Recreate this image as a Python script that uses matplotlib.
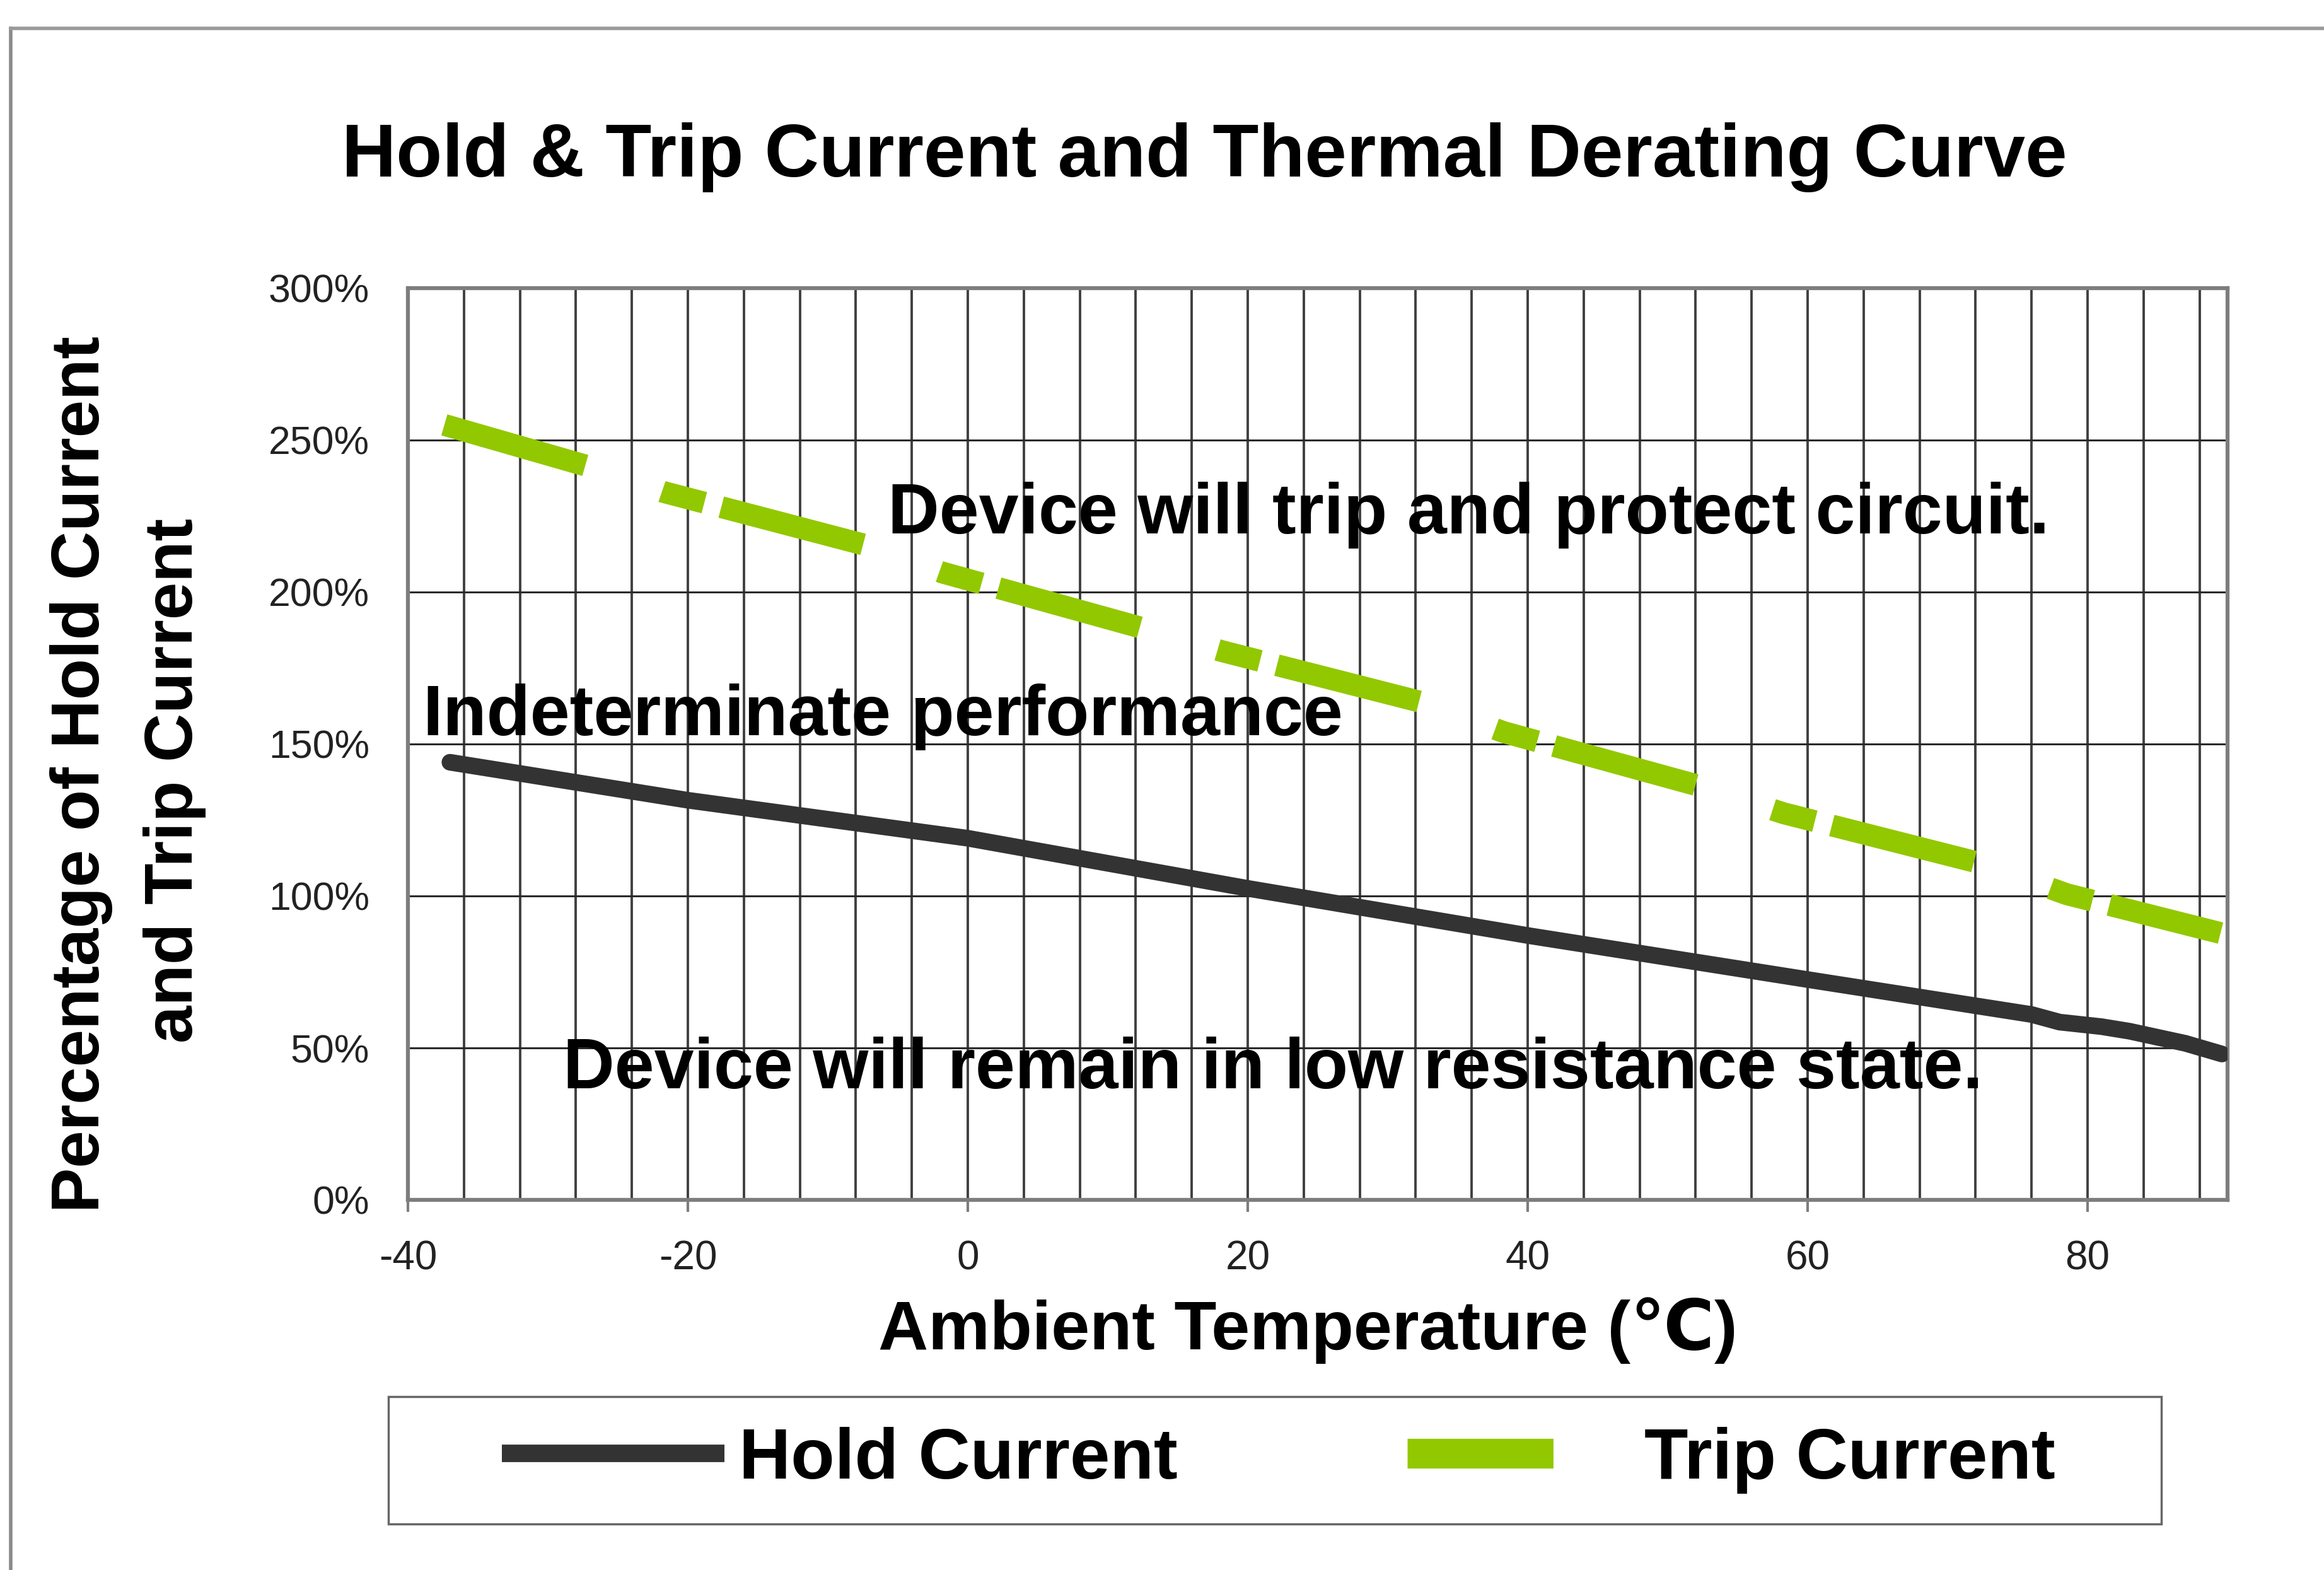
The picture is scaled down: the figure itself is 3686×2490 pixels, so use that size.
import numpy as np
import matplotlib
matplotlib.use("Agg")
from matplotlib import pyplot as plt
from matplotlib.lines import Line2D
from matplotlib.patches import Rectangle

plt.rcParams['font.family'] = ['Liberation Sans', 'DejaVu Sans']

# Hold current curve (ambient temperature in C, percent of rated hold current)
hold_t = [-37, -20, 0, 20, 40, 60, 76, 78, 81, 83, 85, 87, 89.6]
hold_v = [144, 131.5, 119, 102.5, 87, 72.5, 61, 58.5, 57, 55.5, 53.5, 51.5, 48]

# Trip current curve
trip_t = [-37.4, -27.2, -21.8, -7.4, -1.8, 12.6, 18.2, 32.5, 38.3, 52.2, 58.3, 72.5, 78.5, 89.5]
trip_v = [255, 241.5, 233, 215.6, 206.4, 188, 180.5, 163.7, 153.9, 136.3, 127.2, 110.6, 100.6, 87.8]

x_major = [-40, -20, 0, 20, 40, 60, 80]
x_grid = np.arange(-40, 90, 4)
y_ticks = [0, 50, 100, 150, 200, 250, 300]
y_labels = ['0%', '50%', '100%', '150%', '200%', '250%', '300%']

hold_color = '#333333'
trip_color = '#92c800'

W, H = 3687, 2490
fig = plt.figure(figsize=(W / 100, H / 100), dpi=100)
fig.patch.set_facecolor('white')

# outer frame (only top and left edges are visible in the picture)
fig.add_artist(Line2D([17 / W, 17 / W], [0, 1 - 45 / H], color='#8a8a8a', lw=4))
fig.add_artist(Line2D([17 / W, 1], [1 - 45 / H, 1 - 45 / H], color='#9a9a9a', lw=4))

ax = fig.add_axes([647 / W, 1 - 1903 / H, (3533 - 647) / W, (1903 - 457) / H])
ax.set_xlim(-40, 90)
ax.set_ylim(0, 300)

ax.set_xticks(x_major)
ax.set_xticks(x_grid, minor=True)
ax.set_xticklabels([str(v) for v in x_major])
ax.set_yticks(y_ticks)
ax.set_yticklabels(y_labels)

ax.grid(True, axis='x', which='both', color='#404040', lw=2.8)
ax.grid(True, axis='y', which='major', color='#2a2a2a', lw=2.2)
ax.set_axisbelow(True)

for s in ax.spines.values():
    s.set_color('#7d7d7d')
    s.set_linewidth(4.5)

ax.tick_params(axis='x', which='major', direction='out', length=14, width=3,
               color='#7d7d7d', labelsize=46, pad=32, labelcolor='#222222')
ax.tick_params(axis='x', which='minor', length=0)
ax.tick_params(axis='y', which='major', length=0, labelsize=45, pad=44,
               labelcolor='#222222')

ax.plot(hold_t, hold_v, color=hold_color, lw=19, solid_capstyle='round',
        solid_joinstyle='round', zorder=3)
ax.plot(trip_t, trip_v, color=trip_color, lw=25,
        linestyle=(0, (6.7, 3.7, 2.0, 0.8)), dash_capstyle='butt', zorder=3)

ax.text(-5.7, 219.3, 'Device will trip and protect circuit.', fontsize=81.5,
        fontweight='bold', va='baseline', ha='left', zorder=4)
ax.text(-38.9, 153, 'Indeterminate performance', fontsize=81.5,
        fontweight='bold', va='baseline', ha='left', zorder=4)
ax.text(-28.9, 36.7, 'Device will remain in low resistance state.', fontsize=81.5,
        fontweight='bold', va='baseline', ha='left', zorder=4)

fig.text(0.518, 0.8876, 'Hold & Trip Current and Thermal Derating Curve',
         fontsize=86, fontweight='bold', ha='center', va='baseline')
fig.text(0.5625, 0.1406, 'Ambient Temperature (℃)', fontsize=79,
         fontweight='bold', ha='center', va='baseline')
fig.text(129 / W, 0.507, 'Percentage of Hold Current', fontsize=77,
         fontweight='bold', ha='center', va='center', rotation=90)
fig.text(277 / W, 0.503, 'and Trip Current', fontsize=77,
         fontweight='bold', ha='center', va='center', rotation=90)

# legend
fig.add_artist(Rectangle((616 / W, 1 - 2417 / H), (3428 - 616) / W, (2417 - 2215) / H,
                         fill=False, edgecolor='#666666', lw=2.5))
handles = [
    Line2D([], [], color=hold_color, lw=20, solid_capstyle='butt'),
    Line2D([], [], color=trip_color, lw=34, linestyle=(0, (4.9, 20)),
           dash_capstyle='butt'),
]
fig.legend(handles, ['Hold Current', 'Trip Current'], loc='center',
           bbox_to_anchor=(0.55, 0.0699), ncol=2, frameon=False,
           prop={'size': 82, 'weight': 'bold'}, handlelength=3.1,
           handletextpad=0.2, columnspacing=3.2)

fig.savefig('out.png', dpi=100, facecolor='white')
